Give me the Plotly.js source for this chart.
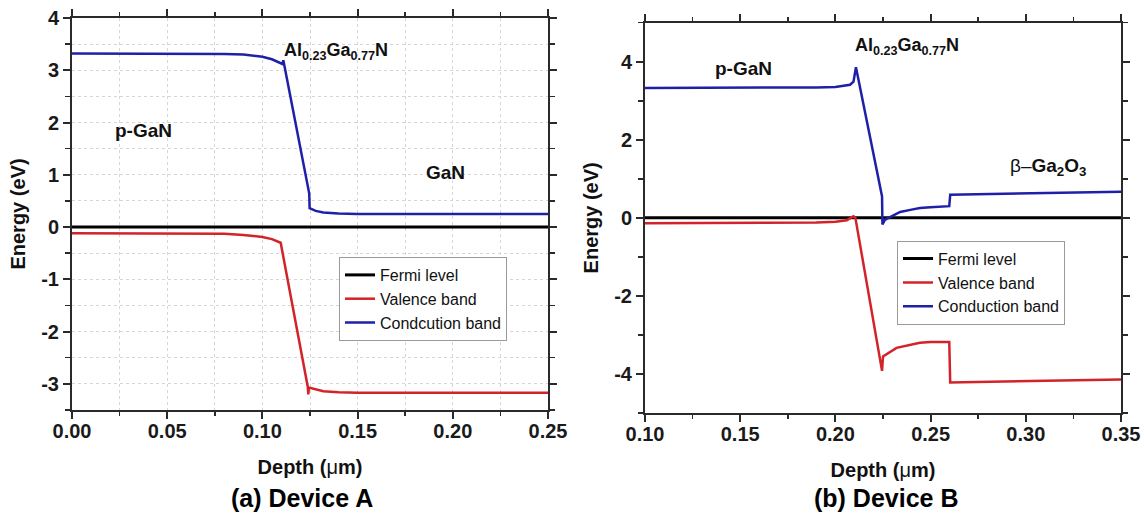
<!DOCTYPE html>
<html><head><meta charset="utf-8">
<script src="https://cdn.plot.ly/plotly-3.0.1.min.js"></script>
<style>html,body{margin:0;padding:0;background:#fff}#chart{width:1144px;height:513px}</style>
</head><body><div id="chart"></div>
<script>
// ---------- Device A ----------
const depthA_fermi = [0, 0.25];
const fermiA = [0, 0];
const depthA_vb = [0, 0.05, 0.08, 0.09, 0.1, 0.105, 0.1096, 0.1238, 0.1241, 0.1244, 0.128, 0.132, 0.14, 0.15, 0.2, 0.25];
const valenceA = [-0.12, -0.12, -0.13, -0.15, -0.19, -0.23, -0.30, -3.05, -3.20, -3.07, -3.11, -3.14, -3.16, -3.17, -3.17, -3.17];
const depthA_cb = [0, 0.05, 0.08, 0.09, 0.1, 0.105, 0.109, 0.1105, 0.111, 0.1246, 0.1248, 0.128, 0.132, 0.14, 0.15, 0.2, 0.25];
const conductionA = [3.32, 3.32, 3.31, 3.30, 3.26, 3.21, 3.15, 3.12, 3.19, 0.64, 0.36, 0.31, 0.28, 0.26, 0.25, 0.25, 0.25];

// ---------- Device B ----------
const depthB_fermi = [0.10, 0.35];
const fermiB = [0, 0];
const depthB_vb = [0.10, 0.15, 0.19, 0.2, 0.206, 0.2095, 0.2105, 0.2245, 0.225, 0.2321, 0.238, 0.2444, 0.25, 0.2592, 0.2598, 0.2603, 0.3, 0.35];
const valenceB = [-0.14, -0.13, -0.12, -0.10, -0.06, 0.04, 0.0, -3.92, -3.55, -3.33, -3.26, -3.20, -3.18, -3.18, -3.18, -4.22, -4.18, -4.14];
const depthB_cb = [0.10, 0.15, 0.19, 0.2, 0.205, 0.2077, 0.2095, 0.2108, 0.2245, 0.2247, 0.226, 0.23, 0.234, 0.24, 0.2444, 0.25, 0.2598, 0.2603, 0.3, 0.35];
const conductionB = [3.33, 3.33, 3.34, 3.35, 3.38, 3.41, 3.49, 3.86, 0.55, -0.17, -0.05, 0.06, 0.15, 0.21, 0.25, 0.27, 0.30, 0.59, 0.63, 0.67];

// ---------- labels ----------
const seriesNamesA = ['Fermi level', 'Valence band', 'Condcution band'];
const seriesNamesB = ['Fermi level', 'Valence band', 'Conduction band'];
const xTicksA = [0, 0.05, 0.10, 0.15, 0.20, 0.25];
const xTickTextA = ['0.00', '0.05', '0.10', '0.15', '0.20', '0.25'];
const xTicksB = [0.10, 0.15, 0.20, 0.25, 0.30, 0.35];
const xTickTextB = ['0.10', '0.15', '0.20', '0.25', '0.30', '0.35'];
const yTicksA = [-3, -2, -1, 0, 1, 2, 3, 4];
const yTickTextA = ['-3', '-2', '-1', '0', '1', '2', '3', '4'];
const yTicksB = [-4, -2, 0, 2, 4];
const yTickTextB = ['-4', '-2', '0', '2', '4'];

const W = 1144, H = 513;
const FONT = 'Arial, "Liberation Sans", sans-serif';
const C_F = '#000000', C_V = '#d2232a', C_C = '#1f20a8';
const AX = '#2a2a2a';

const traces = [
  {x: depthA_fermi, y: fermiA, name: seriesNamesA[0], mode: 'lines', line: {color: C_F, width: 3}, xaxis: 'x', yaxis: 'y', legend: 'legend'},
  {x: depthA_vb, y: valenceA, name: seriesNamesA[1], mode: 'lines', line: {color: C_V, width: 2.5}, xaxis: 'x', yaxis: 'y', legend: 'legend'},
  {x: depthA_cb, y: conductionA, name: seriesNamesA[2], mode: 'lines', line: {color: C_C, width: 2.5}, xaxis: 'x', yaxis: 'y', legend: 'legend'},
  {x: depthB_fermi, y: fermiB, name: seriesNamesB[0], mode: 'lines', line: {color: C_F, width: 3}, xaxis: 'x2', yaxis: 'y2', legend: 'legend2'},
  {x: depthB_vb, y: valenceB, name: seriesNamesB[1], mode: 'lines', line: {color: C_V, width: 2.5}, xaxis: 'x2', yaxis: 'y2', legend: 'legend2'},
  {x: depthB_cb, y: conductionB, name: seriesNamesB[2], mode: 'lines', line: {color: C_C, width: 2.5}, xaxis: 'x2', yaxis: 'y2', legend: 'legend2'}
];

const tickFont = {family: FONT, size: 20, weight: 'bold', color: '#1a1a1a'};
const titleFont = {family: FONT, size: 20, weight: 'bold', color: '#111'};

function baseAxis(extra) {
  return Object.assign({
    showline: true, linecolor: AX, linewidth: 2, mirror: 'ticks',
    ticks: 'outside', ticklen: 7, tickwidth: 2, tickcolor: AX,
    tickfont: tickFont, zeroline: false, fixedrange: true
  }, extra);
}
const gridStyle = {showgrid: true, gridcolor: '#d6d6d6', griddash: 'dot', gridwidth: 1};

const domXA = [72 / W, 548 / W], domYA = [1 - 410 / H, 1 - 18 / H];
const domXB = [645 / W, 1121 / W], domYB = [1 - 413 / H, 1 - 22.7 / H];

const layout = {
  width: W, height: H,
  margin: {l: 0, r: 0, t: 0, b: 0},
  paper_bgcolor: '#fff', plot_bgcolor: 'rgba(0,0,0,0)',
  showlegend: true,
  xaxis: baseAxis(Object.assign({
    domain: domXA, anchor: 'y', range: [0, 0.25],
    tickmode: 'array', tickvals: xTicksA, ticktext: xTickTextA, ticklabelstandoff: -5,
    minor: {dtick: 0.025, tick0: 0, ticklen: 4, tickwidth: 1.5, tickcolor: AX, ticks: 'outside',
            showgrid: true, gridcolor: '#d6d6d6', griddash: 'dot', gridwidth: 1},
    title: {text: 'Depth (<span style="font-weight:normal">μ</span>m)', font: titleFont, standoff: 19}
  }, gridStyle)),
  yaxis: baseAxis(Object.assign({
    domain: domYA, anchor: 'x', range: [-3.5, 4],
    tickmode: 'array', tickvals: yTicksA, ticktext: yTickTextA,
    minor: {dtick: 0.5, tick0: 0, ticklen: 5, tickwidth: 1.5, tickcolor: AX, ticks: 'outside',
            showgrid: true, gridcolor: '#d6d6d6', griddash: 'dot', gridwidth: 1},
    title: {text: 'Energy (eV)', font: titleFont, standoff: 10}
  }, gridStyle)),

  xaxis2: baseAxis({
    domain: domXB, anchor: 'y2', range: [0.10, 0.35], showgrid: false,
    tickmode: 'array', tickvals: xTicksB, ticktext: xTickTextB, ticklabelstandoff: -5,
    minor: {dtick: 0.025, tick0: 0, ticklen: 4, tickwidth: 1.5, tickcolor: AX, ticks: 'outside'},
    title: {text: 'Depth (<span style="font-weight:normal">μ</span>m)', font: titleFont, standoff: 19}
  }),
  yaxis2: baseAxis({
    domain: domYB, anchor: 'x2', range: [-5, 5], showgrid: false,
    tickmode: 'array', tickvals: yTicksB, ticktext: yTickTextB,
    minor: {dtick: 1, tick0: 0, ticklen: 5, tickwidth: 1.5, tickcolor: AX, ticks: 'outside'},
    title: {text: 'Energy (eV)', font: titleFont, standoff: 10}
  }),

  legend: {x: 339 / W, y: 1 - 257 / H, xanchor: 'left', yanchor: 'top', bgcolor: '#fff',
           bordercolor: '#9a9a9a', borderwidth: 1, font: {family: FONT, size: 16, color: '#111'},
           tracegroupgap: 0, itemwidth: 30},
  legend2: {x: 897 / W, y: 1 - 240.7 / H, xanchor: 'left', yanchor: 'top', bgcolor: '#fff',
           bordercolor: '#9a9a9a', borderwidth: 1, font: {family: FONT, size: 16, color: '#111'},
           tracegroupgap: 0, itemwidth: 30},

  annotations: [
    {xref: 'x', yref: 'y', x: 0.0215, y: 1.85, xanchor: 'left', yanchor: 'middle', showarrow: false,
     text: 'p-GaN', font: {family: FONT, size: 19, weight: 'bold', color: '#111'}},
    {xref: 'x', yref: 'y', x: 0.1103, y: 3.36, xanchor: 'left', yanchor: 'middle', showarrow: false,
     text: 'Al<sub>0.23</sub>Ga<sub>0.77</sub>N', font: {family: FONT, size: 18, weight: 'bold', color: '#111'}},
    {xref: 'x', yref: 'y', x: 0.1849, y: 1.05, xanchor: 'left', yanchor: 'middle', showarrow: false,
     text: 'GaN', font: {family: FONT, size: 19, weight: 'bold', color: '#111'}},
    {xref: 'x2', yref: 'y2', x: 0.1356, y: 3.82, xanchor: 'left', yanchor: 'middle', showarrow: false,
     text: 'p-GaN', font: {family: FONT, size: 19, weight: 'bold', color: '#111'}},
    {xref: 'x2', yref: 'y2', x: 0.2092, y: 4.40, xanchor: 'left', yanchor: 'middle', showarrow: false,
     text: 'Al<sub>0.23</sub>Ga<sub>0.77</sub>N', font: {family: FONT, size: 18, weight: 'bold', color: '#111'}},
    {xref: 'x2', yref: 'y2', x: 0.2907, y: 1.30, xanchor: 'left', yanchor: 'middle', showarrow: false,
     text: '<span style="font-weight:normal">β–</span>Ga<sub>2</sub>O<sub>3</sub>', font: {family: FONT, size: 19, weight: 'bold', color: '#111'}},
    {xref: 'paper', yref: 'paper', x: 301.5 / W, y: 1 - 498 / H, xanchor: 'center', yanchor: 'middle', showarrow: false,
     text: '(a) Device A', font: {family: FONT, size: 25, weight: 'bold', color: '#000'}},
    {xref: 'paper', yref: 'paper', x: 885.5 / W, y: 1 - 498 / H, xanchor: 'center', yanchor: 'middle', showarrow: false,
     text: '(b) Device B', font: {family: FONT, size: 25, weight: 'bold', color: '#000'}}
  ]
};

Plotly.newPlot('chart', traces, layout, {displayModeBar: false, staticPlot: true});
</script>
</body></html>
